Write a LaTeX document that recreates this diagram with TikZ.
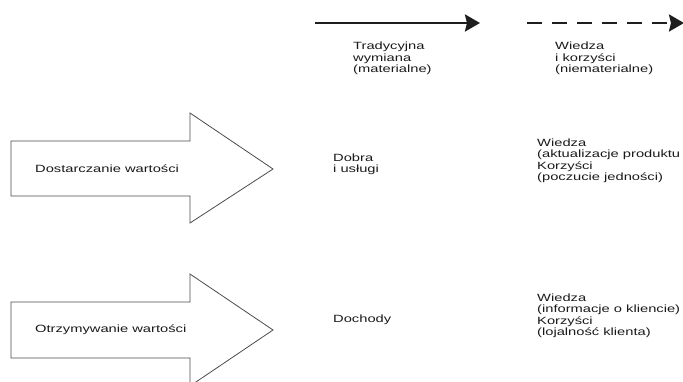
\documentclass[tikz,border=0pt]{standalone}
\usepackage{fontspec}
\setmainfont{Liberation Sans}[FakeStretch=1.4]
\usepackage{tikz}
\usetikzlibrary{arrows.meta}
\definecolor{linecolor}{HTML}{1E1E1E}
\definecolor{textcolor}{HTML}{1A1A1A}
\tikzset{
  bigarrow/.style={draw=black!70, line width=0.8pt, fill=white},
  txt/.style={anchor=west, align=left, inner sep=0pt, text=textcolor,
    font=\fontsize{10.5}{11.5}\selectfont},
  flow/.style={color=linecolor, line width=2.6pt, -{Stealth[length=15pt,width=17pt,inset=2pt]}}
}

\begin{document}
\begin{tikzpicture}[x=1pt,y=1pt]
%%\draw[step=50,color=gray!50,dotted] (0,0) grid (683,381);
\useasboundingbox (0,0) rectangle (683,381);
   \coordinate (solidA) at (315,358);
   \coordinate (solidB) at (480,358);
   \coordinate (dashA) at (527,358);
   \coordinate (dashB) at (684,358);
   \draw [flow] (solidA) -- (solidB);
   \draw [flow, dash pattern=on 15pt off 10pt] (dashA) -- (dashB);

   \node [txt] (tradycyjna) at (353,322.5) {Tradycyjna\\wymiana\\(materialne)};
   \node [txt] (niematerialne) at (555,322.5) {Wiedza\\i korzyści\\(niematerialne)};

%% value arrows
\draw[bigarrow] (11,240) -- (190,240) -- (190,268) -- (273,212) -- (190,158) -- (190,185) -- (11,185) -- cycle;
\draw[bigarrow] (11,79) -- (190,79) -- (190,107) -- (273,51) -- (190,-5) -- (190,23) -- (11,23) -- cycle;
   \node [txt] (dostarczanie) at (35,212) {Dostarczanie wartości};
   \node [txt] (otrzymywanie) at (35,51) {Otrzymywanie wartości};

   \node [txt] (dobra) at (333,216.5) {Dobra\\i usługi};
   \node [txt] (dochody) at (333,61) {Dochody};
   \node [txt] (wiedzaA) at (537,220) {Wiedza\\(aktualizacje produktu\\Korzyści\\(poczucie jedności)};
   \node [txt] (wiedzaB) at (537,65) {Wiedza\\(informacje o kliencie)\\Korzyści\\(lojalność klienta)};
\end{tikzpicture}
\end{document}
